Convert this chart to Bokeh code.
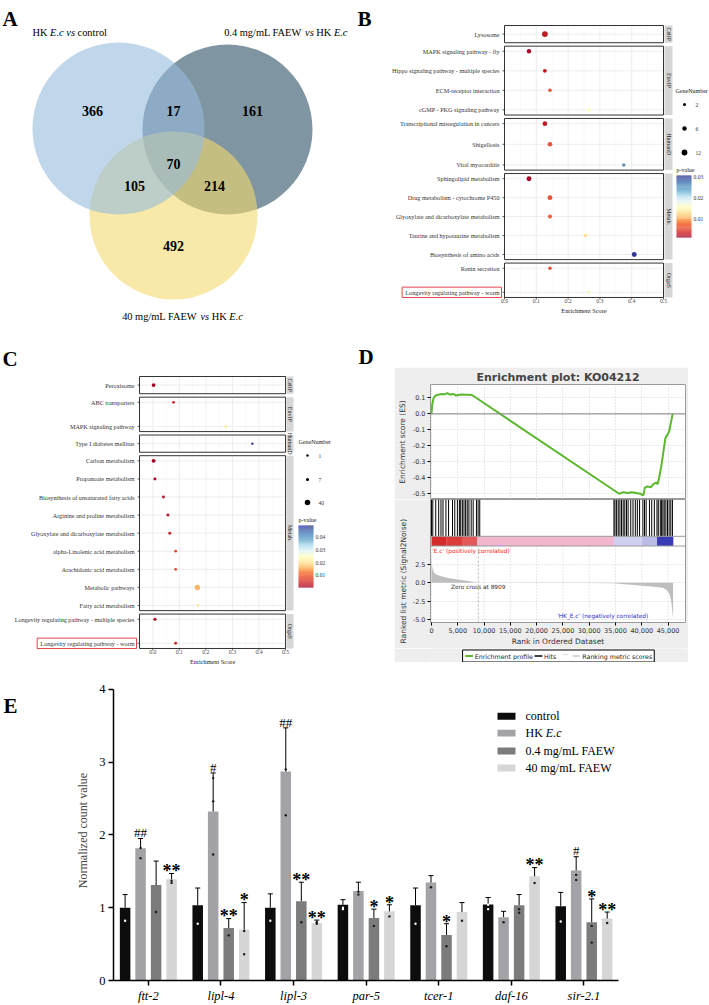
import numpy as np
from bokeh.plotting import figure
from bokeh.models import (Range1d, FixedTicker, ColumnDataSource, Title, Span,
                          NumeralTickFormatter, PrintfTickFormatter, Spacer, Grid)
from bokeh.layouts import row, column
from bokeh.core.properties import value
from bokeh.transform import linear_cmap
from bokeh.palettes import RdYlBu11
from bokeh.embed import file_html
from bokeh.resources import INLINE

try:
    from bokeh.palettes import interp_palette
    _pal = list(interp_palette(RdYlBu11, 128))
except Exception:
    _pal = list(RdYlBu11)
# low p-value -> red, high p-value -> blue
PVAL_PAL = _pal if _pal[0].lower().startswith("#a5") else _pal[::-1]

SERIF = "Liberation Serif"
SANS = "DejaVu Sans"

# ---------------- DATA ----------------
# A: Venn diagram
venn_set_labels = ["HK E.c vs control", "0.4 mg/mL FAEW vs HK E.c", "40 mg/mL FAEW vs HK E.c"]
venn_regions = ["1", "1&2", "2", "1&3", "1&2&3", "2&3", "3"]
venn_counts = [366, 17, 161, 105, 70, 214, 492]

# B: KEGG enrichment (HK E.c vs control)
B_pathway = ["Lysosome", "MAPK signaling pathway - fly", "Hippo signaling pathway - multiple species",
             "ECM-receptor interaction", "cGMP - PKG signaling pathway",
             "Transcriptional misregulation in cancers", "Shigellosis", "Viral myocarditis",
             "Sphingolipid metabolism", "Drug metabolism - cytochrome P450",
             "Glyoxylate and dicarboxylate metabolism", "Taurine and hypotaurine metabolism",
             "Biosynthesis of amino acids", "Renin secretion", "Longevity regulating pathway - worm"]
B_class = ["CellP", "EnvIP", "EnvIP", "EnvIP", "EnvIP", "HumanD", "HumanD", "HumanD",
           "Metab.", "Metab.", "Metab.", "Metab.", "Metab.", "OrgaS", "OrgaS"]
B_enrich = [0.127, 0.077, 0.127, 0.143, 0.265, 0.127, 0.143, 0.375, 0.077, 0.143, 0.143, 0.255, 0.408, 0.143, 0.265]
B_genes = [12, 6, 4, 3, 5, 7, 7, 3, 8, 8, 5, 3, 8, 3, 6]
B_pvalue = [0.003, 0.0015, 0.0028, 0.006, 0.016, 0.003, 0.006, 0.026, 0.0012, 0.006, 0.0065, 0.013, 0.0305, 0.006, 0.017]
B_size_breaks = [2, 6, 12]
B_p_ticks = [0.01, 0.02, 0.03]

# C: KEGG enrichment (FAEW)
C_pathway = ["Peroxisome", "ABC transporters", "MAPK signaling pathway", "Type I diabetes mellitus",
             "Carbon metabolism", "Propanoate metabolism", "Biosynthesis of unsaturated fatty acids",
             "Arginine and proline metabolism", "Glyoxylate and dicarboxylate metabolism",
             "alpha-Linolenic acid metabolism", "Arachidonic acid metabolism", "Metabolic pathways",
             "Fatty acid metabolism", "Longevity regulating pathway - multiple species",
             "Longevity regulating pathway - worm"]
C_class = ["CellP", "EnvIP", "EnvIP", "HumanD", "Metab.", "Metab.", "Metab.", "Metab.", "Metab.",
           "Metab.", "Metab.", "Metab.", "Metab.", "OrgaS", "OrgaS"]
C_enrich = [0.003, 0.078, 0.275, 0.375, 0.003, 0.008, 0.040, 0.057, 0.064, 0.086, 0.086, 0.168, 0.170, 0.008, 0.086]
C_genes = [14, 3, 3, 1, 16, 5, 5, 5, 5, 3, 3, 40, 3, 7, 5]
C_pvalue = [0.0008, 0.004, 0.021, 0.049, 0.0005, 0.0015, 0.003, 0.003, 0.004, 0.007, 0.007, 0.016, 0.020, 0.0015, 0.005]
C_size_breaks = [1, 7, 40]
C_p_ticks = [0.01, 0.02, 0.03, 0.04]

# D: GSEA enrichment plot KO04212
D_title = "Enrichment plot: KO04212"
es_rank = [0, 150, 400, 800, 1300, 1900, 2500, 3000, 3500, 4100, 4700, 5300, 5900, 6500, 7100, 7700,
           35700, 36500, 37300, 38100, 38900, 39700, 40300, 40600, 41100, 41700, 42200, 42700, 43000,
           43300, 43700, 44100, 44500, 44900, 45200, 45500, 45880]
es_value = [0.0, 0.06, 0.10, 0.115, 0.12, 0.125, 0.122, 0.13, 0.12, 0.125, 0.115, 0.12, 0.122, 0.12, 0.12, 0.118,
            -0.50, -0.49, -0.495, -0.49, -0.495, -0.50, -0.51, -0.46, -0.455, -0.46, -0.44, -0.43, -0.44,
            -0.40, -0.33, -0.24, -0.15, -0.13, -0.11, -0.06, 0.0]
hit_ranks = [0, 250, 810, 1370, 1810, 2190, 2750, 3250, 4000, 4430, 4930, 5310, 5560, 5870, 6180, 6490,
             6800, 7120, 7550, 7930, 8550, 8870, 9180,
             34710, 34900, 35210, 35520, 35840, 36150, 36460, 36770, 37090, 37400, 37900, 38330, 38770,
             39150, 39580, 40210, 40520, 40830, 41460, 41890, 42390, 42890, 43140, 43520, 43770, 44020,
             44270, 44580, 44890, 45200, 45520, 45830]
metric_rank = [0, 60, 200, 500, 1000, 2000, 3000, 4000, 5000, 6000, 7000, 8000, 8909, 12000, 20000, 30000,
               34700, 36000, 38000, 40000, 42000, 44000, 44800, 45300, 45600, 45800, 45950]
metric_value = [3.9, 2.8, 1.9, 1.35, 1.1, 0.85, 0.7, 0.55, 0.45, 0.35, 0.25, 0.12, 0.0, -0.01, -0.02, -0.04,
                -0.05, -0.15, -0.28, -0.4, -0.5, -0.66, -1.0, -1.6, -2.5, -3.8, -4.9]
zero_cross = 8909
bar_edges = [0, 2900, 5800, 8700, 34700, 40000, 42900, 46000]
bar_colors = ["#D42A2A", "#DC3C3C", "#E45A5A", "#F2B6CE", "#CFCFF0", "#BBBBE8", "#3A3AB4"]
D_legend_labels = ["Enrichment profile", "Hits", "Ranking metric scores"]
D_legend_colors = ["#5CB82E", "#000000", "#C8C8C8"]

# E: bar chart
E_genes = ["ftt-2", "lipl-4", "lipl-3", "par-5", "tcer-1", "daf-16", "sir-2.1"]
E_groups = ["control", "HK E.c", "0.4 mg/mL FAEW", "40 mg/mL FAEW"]
E_control = [1.00, 1.035, 1.00, 1.04, 1.035, 1.045, 1.02]
E_hk = [1.815, 2.32, 2.87, 1.23, 1.345, 0.87, 1.51]
E_faew04 = [1.31, 0.72, 1.09, 0.86, 0.625, 1.035, 0.80]
E_faew40 = [1.39, 0.70, 0.79, 0.95, 0.94, 1.43, 0.85]
E_control_sd = [0.18, 0.235, 0.19, 0.07, 0.235, 0.095, 0.19]
E_hk_sd = [0.135, 0.53, 0.60, 0.12, 0.095, 0.08, 0.19]
E_faew04_sd = [0.33, 0.13, 0.26, 0.12, 0.155, 0.145, 0.32]
E_faew40_sd = [0.08, 0.37, 0.04, 0.09, 0.13, 0.12, 0.09]
E_control_pts = [[0.82], [0.78], [0.82], [1.00, 0.98], [0.78], [1.04, 0.98], [0.81]]
E_hk_pts = [[1.82, 1.68], [2.78, 2.46, 1.73], [2.90, 2.27], [1.22, 1.18], [1.28], [0.80], [1.45, 1.38]]
E_faew04_pts = [[0.94], [0.62], [0.80], [0.75], [0.47], [0.98, 0.93], [0.75, 0.52]]
E_faew40_pts = [[1.37, 1.34], [0.68, 0.36], [0.78, 0.80], [0.88], [0.82], [1.34], [0.79]]
E_control_sig = ["", "", "", "", "", "", ""]
E_hk_sig = ["##", "#", "##", "", "", "", "#"]
E_faew04_sig = ["", "**", "**", "*", "*", "", "*"]
E_faew40_sig = ["**", "*", "**", "*", "", "**", "**"]
E_colors = ["#0D0D0D", "#A3A3A7", "#7C7C7C", "#D6D6D6"]

# ---------------- helpers ----------------
TW_REG = {' ': 250, '.': 250, '/': 278, '-': 333, 'A': 722, 'B': 667, 'C': 667, 'D': 722, 'E': 611, 'F': 556,
          'G': 722, 'H': 722, 'I': 333, 'K': 722, 'L': 611, 'M': 889, 'N': 722, 'O': 722, 'P': 556, 'R': 667,
          'S': 556, 'T': 611, 'V': 722, 'W': 944, 'a': 444, 'b': 500, 'c': 444, 'd': 500, 'e': 444, 'f': 333,
          'g': 500, 'h': 500, 'i': 278, 'k': 500, 'l': 278, 'm': 778, 'n': 500, 'o': 500, 'p': 500, 'r': 333,
          's': 389, 't': 278, 'u': 500, 'v': 500, 'w': 722, 'y': 500}
TW_IT = {' ': 250, '.': 250, 'E': 611, 'c': 444, 'v': 444, 's': 389}


def tw(s, italic=False, size=10.0):
    tab = TW_IT if italic else TW_REG
    return sum(tab.get(ch, 500) for ch in s) / 1000.0 * size


def rich_text(p, x_left, y, parts, size, ppu=1.0, color="black", baseline="middle"):
    x = x_left
    for txt, it in parts:
        lead = len(txt) - len(txt.lstrip(" "))
        core = txt.strip(" ")
        trail = len(txt) - lead - len(core)
        x += lead * 0.25 * size / ppu
        if core:
            p.text(x=[x], y=[y], text=[core], text_font=value(SERIF), text_font_size=f"{size}px",
                   text_font_style="italic" if it else "normal", text_align="left",
                   text_baseline=baseline, text_color=color)
            x += tw(core, it, size) / ppu
        x += trail * 0.25 * size / ppu


def fig(**kw):
    base = dict(toolbar_location=None, output_backend="svg", min_border=0)
    base.update(kw)
    return figure(**base)


def bare(p):
    p.outline_line_color = None
    p.grid.visible = False
    return p


# ---------------- A ----------------
pA = bare(fig(width=350, height=325, x_range=Range1d(0, 350), y_range=Range1d(325, 0),
              x_axis_location=None, y_axis_location=None))
circ_x = [118, 227, 173]
circ_y = [128, 129, 215]
circ_r = [86, 85, 84]
venn_colors = ["#96BBDC", "#2A4E62", "#F3DA70"]
for k in [1, 2, 0]:
    pA.circle(x=[circ_x[k]], y=[circ_y[k]], radius=circ_r[k], fill_color=venn_colors[k],
              fill_alpha=0.6, line_color=None)
reg_x = [92, 173, 252, 134, 173, 214, 173]
reg_y = [110, 110, 110, 185, 163, 185, 245]
pA.text(x=reg_x, y=reg_y, text=[str(c) for c in venn_counts], text_font=value(SERIF),
        text_font_size="14px", text_font_style="bold", text_align="center", text_baseline="middle",
        text_color="black")
parts1 = [("HK ", False), ("E.c", True), (" ", False), ("vs", True), (" control", False)]
parts2 = [("0.4 mg/mL FAEW ", False), ("vs", True), (" HK ", False), ("E.c", True)]
parts3 = [("40 mg/mL FAEW ", False), ("vs", True), (" HK ", False), ("E.c", True)]
fs = 10.4
rich_text(pA, 32, 32, parts1, fs)
w2 = sum(tw(t, i, fs) for t, i in parts2)
rich_text(pA, 347 - w2, 32, parts2, fs)
w3 = sum(tw(t, i, fs) for t, i in parts3)
rich_text(pA, 182 - w3 / 2, 316, parts3, fs)
pA.text(x=[2], y=[18], text=["A"], text_font=value(SERIF), text_font_size="21px", text_font_style="bold",
        text_baseline="alphabetic", text_align="left")

# ---------------- facet dot panels (B, C) ----------------
PAD, GAP = 0.3, 0.2


def facet_layout(groups):
    order = []
    for g in groups:
        if g not in order:
            order.append(g)
    facets, ypos = [], []
    top = 0.0
    for g in order:
        n = groups.count(g)
        bottom = top + n
        if n == 1:
            rows = [top + 0.5]
        else:
            step = (n - 2 * PAD) / (n - 1)
            rows = [top + PAD + i * step for i in range(n)]
        facets.append((g, top, bottom))
        ypos += rows
        top = bottom + GAP
    return facets, ypos


def dot_panel(W, H, fx0, fy0, zero_px, xppu, top_px, yppu, box_lo, box_hi,
              paths, groups, es, cnt, pv, size_breaks, dmin, dmax, p_ticks,
              leg_x, leg_title_y, leg_dot_ys, cb_x0, cb_x1, cb_top, cb_bot, cb_title_y,
              strip_px, letter, letter_xy, highlight):
    X = lambda px: (px - zero_px) / xppu
    Y = lambda py: (py - top_px) / yppu
    p = bare(fig(width=W, height=H, x_range=Range1d(X(fx0), X(fx0 + W)),
                 y_range=Range1d(Y(fy0 + H), Y(fy0)), x_axis_location=None, y_axis_location=None))
    facets, ypos = facet_layout(groups)
    major = [0.0, 0.1, 0.2, 0.3, 0.4, 0.5]
    minor = [m for m in np.arange(-0.05, 0.5, 0.1) if box_lo + 1e-6 < m < box_hi - 1e-6]
    for g, t, b in facets:
        p.segment(x0=minor, y0=[t] * len(minor), x1=minor, y1=[b] * len(minor), line_color="#F3F3F3", line_width=0.5)
        p.segment(x0=major, y0=[t] * 6, x1=major, y1=[b] * 6, line_color="#E6E6E6", line_width=0.7)
    p.segment(x0=[box_lo] * len(ypos), y0=ypos, x1=[box_hi] * len(ypos), y1=ypos, line_color="#E6E6E6", line_width=0.7)
    p.quad(left=[box_lo] * len(facets), right=[box_hi] * len(facets), top=[f[1] for f in facets],
           bottom=[f[2] for f in facets], fill_alpha=0, line_color="#333333", line_width=1)
    # strips
    s0, s1 = X(strip_px[0]), X(strip_px[1])
    p.quad(left=[s0] * len(facets), right=[s1] * len(facets), top=[f[1] for f in facets],
           bottom=[f[2] for f in facets], fill_color="#D6D6D6", line_color=None)
    p.text(x=[(s0 + s1) / 2] * len(facets), y=[(f[1] + f[2]) / 2 for f in facets], text=[f[0] for f in facets],
           angle=-np.pi / 2, text_font=value(SERIF), text_font_size="6px", text_align="center",
           text_baseline="middle", text_color="#1A1A1A")
    # dots
    nmin, nmax = size_breaks[0], size_breaks[-1]
    dsize = lambda n: dmin + (dmax - dmin) * (max(n - nmin, 0) / (nmax - nmin)) ** 0.75
    plow, phigh = min(pv), max(pv)
    src = ColumnDataSource(dict(x=es, y=ypos, p=pv, s=[dsize(n) for n in cnt]))
    p.scatter('x', 'y', size='s', source=src, fill_color=linear_cmap('p', PVAL_PAL, plow, phigh), line_color=None)
    # y labels and ticks
    bl_px = zero_px + box_lo * xppu
    p.text(x=[X(bl_px - 5)] * len(paths), y=ypos, text=paths, text_font=value(SERIF), text_font_size="6.2px",
           text_align="right", text_baseline="middle", text_color="#333333")
    p.segment(x0=[X(bl_px - 2)] * len(ypos), y0=ypos, x1=[box_lo] * len(ypos), y1=ypos, line_color="#333333", line_width=0.8)
    # x ticks
    yb = facets[-1][2]
    yb_px = top_px + yb * yppu
    p.segment(x0=major, y0=[yb] * 6, x1=major, y1=[Y(yb_px + 2)] * 6, line_color="#333333", line_width=0.8)
    p.text(x=major, y=[Y(yb_px + 2)] * 6, text=[f"{m:.1f}" for m in major], text_font=value(SERIF),
           text_font_size="5.8px", text_align="center", text_baseline="top", text_color="#4D4D4D")
    p.text(x=[(box_lo + box_hi) / 2], y=[Y(yb_px + 9.5)], text=["Enrichment Score"], text_font=value(SERIF),
           text_font_size="6.3px", text_align="center", text_baseline="top", text_color="#1A1A1A")
    # highlight box
    idx = paths.index(highlight)
    wlab = tw(highlight, False, 6.2)
    yr = ypos[idx]
    p.quad(left=[X(bl_px - 5 - wlab - 3)], right=[X(bl_px - 3)], top=[yr - 5.2 / yppu], bottom=[yr + 5.2 / yppu],
           fill_alpha=0, line_color="#E5454F", line_width=1)
    # size legend
    p.text(x=[X(leg_x)], y=[Y(leg_title_y)], text=["GeneNumber"], text_font=value(SERIF), text_font_size="6px",
           text_align="left", text_baseline="middle", text_color="#1A1A1A")
    p.scatter(x=[X(leg_x + 9)] * 3, y=[Y(v) for v in leg_dot_ys], size=[dsize(n) for n in size_breaks],
              fill_color="black", line_color=None)
    p.text(x=[X(leg_x + 20)] * 3, y=[Y(v) for v in leg_dot_ys], text=[str(n) for n in size_breaks],
           text_font=value(SERIF), text_font_size="5.5px", text_align="left", text_baseline="middle",
           text_color="#333333")
    # colour bar
    N = 64
    edges = np.linspace(plow, phigh, N + 1)
    ypx = lambda v: Y(cb_bot - (v - plow) / (phigh - plow) * (cb_bot - cb_top))
    cb = ColumnDataSource(dict(top=[ypx(e) for e in edges[1:]], bottom=[ypx(e) for e in edges[:-1]],
                               m=list((edges[1:] + edges[:-1]) / 2)))
    p.quad(left=X(cb_x0), right=X(cb_x1), top='top', bottom='bottom', source=cb,
           fill_color=linear_cmap('m', PVAL_PAL, plow, phigh), line_color=None)
    p.text(x=[X(cb_x1 + 2)] * len(p_ticks), y=[ypx(t) for t in p_ticks], text=[f"{t:.2f}" for t in p_ticks],
           text_font=value(SERIF), text_font_size="5.5px", text_align="left", text_baseline="middle",
           text_color="#333333")
    p.text(x=[X(cb_x0)], y=[Y(cb_title_y)], text=["p-value"], text_font=value(SERIF), text_font_size="6px",
           text_align="left", text_baseline="middle", text_color="#1A1A1A")
    # letter
    p.text(x=[X(letter_xy[0])], y=[Y(letter_xy[1])], text=[letter], text_font=value(SERIF), text_font_size="21px",
           text_font_style="bold", text_align="left", text_baseline="alphabetic")
    return p


pB = dot_panel(359, 325, 350, 0, 504.0, 318.0, 25.0, 17.215, 0.0, 0.5,
               B_pathway, B_class, B_enrich, B_genes, B_pvalue, B_size_breaks, 3.0, 5.8, B_p_ticks,
               675, 90, [104, 128, 152], 676, 691, 175, 237, 169, (664, 672), "B", (357, 18),
               "Longevity regulating pathway - worm")

pC = dot_panel(355, 340, 0, 325, 152.3, 265.5, 376.0, 17.215, -0.05, 0.5,
               C_pathway, C_class, C_enrich, C_genes, C_pvalue, C_size_breaks, 2.4, 5.5, C_p_ticks,
               298, 441, [455, 479, 502], 298, 313, 525, 587, 519, (286, 293), "C", (2, 358),
               "Longevity regulating pathway - worm")

# ---------------- D ----------------
GRAYBG = "#EEEEEE"
xr = Range1d(-187, 48315)
xt = list(range(0, 45001, 5000))


def style_axis(ax):
    ax.axis_label_text_font = SANS
    ax.axis_label_text_font_size = "7.5px"
    ax.axis_label_text_font_style = "normal"
    ax.axis_label_text_color = "#333333"
    ax.axis_label_standoff = 3
    ax.major_label_text_font = SANS
    ax.major_label_text_font_size = "6.5px"
    ax.major_label_text_color = "#333333"
    ax.minor_tick_line_color = None
    ax.major_tick_out = 3
    ax.major_tick_in = 0
    ax.axis_line_color = None
    ax.major_label_standoff = 2


pD1 = fig(width=294, height=132, x_range=xr, y_range=Range1d(-0.536, 0.184), x_axis_location=None,
          min_border_left=32, min_border_right=3, min_border_top=0, min_border_bottom=0,
          border_fill_color=GRAYBG, background_fill_color="white", outline_line_color="#9A9A9A",
          title=D_title)
pD1.title.align = "center"
pD1.title.text_font = SANS
pD1.title.text_font_size = "11px"
pD1.title.text_font_style = "bold"
pD1.title.standoff = 2
pD1.xgrid.visible = False
pD1.add_layout(Grid(dimension=0, ticker=FixedTicker(ticks=xt), grid_line_color="#D0D0D0", grid_line_dash="1 2"))
es_ticks = [0.1, 0.0, -0.1, -0.2, -0.3, -0.4, -0.5]
pD1.yaxis.ticker = FixedTicker(ticks=es_ticks)
pD1.yaxis.formatter = PrintfTickFormatter(format="%.1f")
pD1.ygrid.ticker = FixedTicker(ticks=es_ticks)
pD1.ygrid.grid_line_color = "#D0D0D0"
pD1.ygrid.grid_line_dash = "1 2"
pD1.yaxis.axis_label = "Enrichment score (ES)"
style_axis(pD1.yaxis)
pD1.add_layout(Span(location=0, dimension="width", line_color="#808080", line_width=1))
pD1.line(es_rank, es_value, line_color="#5CB82E", line_width=2)

pD2 = fig(width=294, height=149, x_range=xr, y_range=Range1d(-5.4, 11.32),
          min_border_left=32, min_border_right=3, min_border_top=0, min_border_bottom=22,
          border_fill_color=GRAYBG, background_fill_color="white", outline_line_color="#9A9A9A")
pD2.extra_y_ranges = {"hits": Range1d(-2.342, 1.0)}
m_ticks = [-5.0, -2.5, 0.0, 2.5]
pD2.yaxis.ticker = FixedTicker(ticks=m_ticks)
pD2.yaxis.formatter = PrintfTickFormatter(format="%.1f")
pD2.xaxis.ticker = FixedTicker(ticks=xt)
pD2.xaxis.formatter = NumeralTickFormatter(format="0,0")
pD2.xaxis.axis_label = "Rank in Ordered Dataset"
pD2.xgrid.visible = False
pD2.ygrid.ticker = FixedTicker(ticks=m_ticks)
pD2.ygrid.grid_line_color = "#D0D0D0"
pD2.ygrid.grid_line_dash = "1 2"
style_axis(pD2.xaxis)
style_axis(pD2.yaxis)
pD2.xaxis.axis_label_standoff = 1
pD2.add_layout(Title(text="Ranked list metric (Signal2Noise)", align="left", offset=-21, standoff=3,
                     text_font=SANS, text_font_size="7.5px", text_font_style="normal", text_color="#333333"), "left")
pD2.segment(x0=xt, y0=[-5.4] * len(xt), x1=xt, y1=[5.0] * len(xt), line_color="#D0D0D0", line_dash="1 2")
pD2.varea(x=metric_rank, y1=[0] * len(metric_rank), y2=metric_value, fill_color="#BEBEBE")
pD2.segment(x0=[zero_cross], y0=[-5.4], x1=[zero_cross], y1=[5.0], line_color="#B0B0B0", line_dash="2 2")
pD2.segment(x0=hit_ranks, y0=[0] * len(hit_ranks), x1=hit_ranks, y1=[1] * len(hit_ranks),
            line_color="black", line_width=1, y_range_name="hits")
pD2.quad(left=bar_edges[:-1], right=bar_edges[1:], bottom=-0.263, top=0, fill_color=bar_colors,
         line_color=None, y_range_name="hits")
pD2.add_layout(Span(location=0, dimension="width", line_color="#9A9A9A", line_width=1, y_range_name="hits"))
pD2.add_layout(Span(location=5.0, dimension="width", line_color="#9A9A9A", line_width=1))
pD2.text(x=[150], y=[4.35], text=["'E.c' (positively correlated)"], text_font=value(SANS), text_font_size="5.8px",
         text_color="#FF2020", text_align="left", text_baseline="middle")
pD2.text(x=[23900], y=[-4.45], text=["'HK_E.c' (negatively correlated)"], text_font=value(SANS),
         text_font_size="5.8px", text_color="#2A2AD0", text_align="left", text_baseline="middle")
pD2.text(x=[3700], y=[-0.15], text=[f"Zero cross at {zero_cross}"], text_font=value(SANS),
         text_font_size="5.8px", text_color="#333333", text_align="left", text_baseline="top")

# legend strip of panel D (drawn as glyphs in a small canvas)
pD3 = bare(fig(width=294, height=14, x_range=Range1d(0, 294), y_range=Range1d(14, 0),
               x_axis_location=None, y_axis_location=None, background_fill_color=GRAYBG,
               border_fill_color=GRAYBG))
pD3.quad(left=[37], right=[258], top=[1.5], bottom=[13.5], fill_color="white", line_color="black", line_width=1)
leg_line_x = [(40, 49), (120, 129), (164, 172)]
leg_text_x = [51, 131, 175]
for (a, b), c, t, tx in zip(leg_line_x, D_legend_colors, D_legend_labels, leg_text_x):
    pD3.segment(x0=[a], y0=[7.5], x1=[b], y1=[7.5], line_color=c, line_width=2 if c == "#5CB82E" else 1.3)
    pD3.text(x=[tx], y=[7.5], text=[t], text_font=value(SANS), text_font_size="6.3px", text_align="left",
             text_baseline="middle", text_color="#222222")
pD3.segment(x0=[152], y0=[6.0], x1=[159], y1=[6.0], line_color="#DDDDDD", line_width=1)

pDl = bare(fig(width=354, height=42, x_range=Range1d(0, 354), y_range=Range1d(42, 0),
               x_axis_location=None, y_axis_location=None))
pDl.text(x=[3], y=[31], text=["D"], text_font=value(SERIF), text_font_size="21px", text_font_style="bold",
         text_align="left", text_baseline="alphabetic")
colD = column(pDl, row(Spacer(width=39, height=295), column(pD1, pD2, pD3), Spacer(width=21, height=295)),
              Spacer(width=354, height=3))

# ---------------- E ----------------
pEl = bare(fig(width=25, height=340, x_range=Range1d(0, 25), y_range=Range1d(340, 0),
               x_axis_location=None, y_axis_location=None))
pEl.text(x=[3], y=[29], text=["E"], text_font=value(SERIF), text_font_size="21px", text_font_style="bold",
         text_align="left", text_baseline="alphabetic")

EPPU = 72.6
pE = fig(width=684, height=340, x_range=Range1d(-0.48, -0.48 + 596 / EPPU), y_range=Range1d(0, 4.12),
         min_border_left=88, min_border_right=0, min_border_top=15, min_border_bottom=24,
         outline_line_color=None)
pE.grid.visible = False
pE.xaxis.ticker = FixedTicker(ticks=list(range(len(E_genes))))
pE.xaxis.major_label_overrides = {i: g for i, g in enumerate(E_genes)}
pE.xaxis.bounds = (-0.48, 6.48)
pE.yaxis.ticker = FixedTicker(ticks=[0, 1, 2, 3, 4])
pE.yaxis.bounds = (0, 4)
pE.yaxis.axis_label = "Normalized count value"
for ax in [pE.xaxis, pE.yaxis]:
    ax.axis_line_width = 1.5
    ax.axis_line_color = "black"
    ax.major_tick_line_width = 1.5
    ax.major_tick_out = 5
    ax.major_tick_in = 0
    ax.minor_tick_line_color = None
    ax.major_label_text_font = SERIF
    ax.major_label_text_font_size = "12.5px"
    ax.major_label_text_color = "black"
    ax.axis_label_text_font = SERIF
    ax.axis_label_text_font_size = "12px"
    ax.axis_label_text_font_style = "normal"
    ax.axis_label_standoff = 6
    ax.major_label_standoff = 3
pE.xaxis.major_label_text_font_style = "italic"

means = [E_control, E_hk, E_faew04, E_faew40]
sds = [E_control_sd, E_hk_sd, E_faew04_sd, E_faew40_sd]
pts = [E_control_pts, E_hk_pts, E_faew04_pts, E_faew40_pts]
sigs = [E_control_sig, E_hk_sig, E_faew04_sig, E_faew40_sig]
offs = [-0.32, -0.107, 0.107, 0.32]
for j in range(4):
    xs = [i + offs[j] for i in range(len(E_genes))]
    pE.vbar(x=xs, top=means[j], width=0.145, fill_color=E_colors[j], line_color=None)
    tops = [m + s for m, s in zip(means[j], sds[j])]
    pE.segment(x0=xs, y0=means[j], x1=xs, y1=tops, line_color="black", line_width=1)
    pE.segment(x0=[x - 0.035 for x in xs], y0=tops, x1=[x + 0.035 for x in xs], y1=tops,
               line_color="black", line_width=1)
    dx, dy = [], []
    for i in range(len(E_genes)):
        for v in pts[j][i]:
            dx.append(xs[i])
            dy.append(v)
    pE.scatter(dx, dy, size=2.4, fill_color="white" if j == 0 else "#1A1A1A", line_color=None)
    sx, sy, st, hx, hy, ht = [], [], [], [], [], []
    for i, s in enumerate(sigs[j]):
        if s.startswith("*"):
            sx.append(xs[i]); sy.append(tops[i] + 0.03); st.append(s)
        elif s.startswith("#"):
            hx.append(xs[i]); hy.append(tops[i] + 0.08); ht.append(s)
    if st:
        pE.text(x=sx, y=sy, text=st, text_font=value(SERIF), text_font_size="18px", text_font_style="bold",
                text_align="center", text_baseline="alphabetic", text_color="black")
    if ht:
        pE.text(x=hx, y=hy, text=ht, text_font=value(SERIF), text_font_size="13px",
                text_align="center", text_baseline="alphabetic", text_color="black")

# manual legend
EX = lambda px: (px - 113) / EPPU - 0.48
EY = lambda py: (981 - py) / 73.0
leg_ys = [716, 733, 751, 768]
pE.rect(x=[EX(506)] * 4, y=[EY(v) for v in leg_ys], width=18 / EPPU, height=7 / 73.0,
        fill_color=E_colors, line_color=None)
for k, g in enumerate(E_groups):
    if g == "HK E.c":
        rich_text(pE, EX(525), EY(leg_ys[k]), [("HK ", False), ("E.c", True)], 12, ppu=EPPU)
    else:
        rich_text(pE, EX(525), EY(leg_ys[k]), [(g, False)], 12, ppu=EPPU)

layout = column(row(pA, pB), row(pC, colD), row(pEl, pE))
open("out.html", "w").write(file_html(layout, INLINE, "Figure"))
